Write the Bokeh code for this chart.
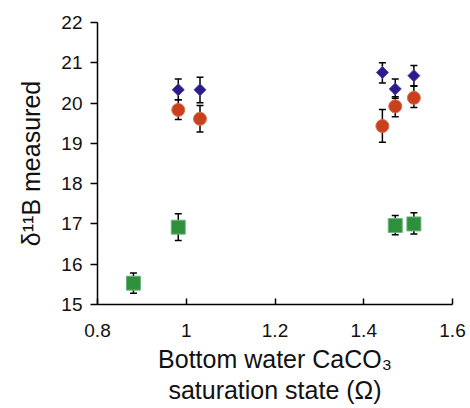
import math
from bokeh.plotting import figure
from bokeh.models import ColumnDataSource, Whisker, TeeHead, FixedTicker
from bokeh.embed import file_html
from bokeh.resources import INLINE

# Data
sq_x = [0.881, 0.982, 1.471, 1.513]
sq_y = [15.53, 16.92, 16.96, 17.00]
sq_lo = [15.28, 16.59, 16.73, 16.75]
sq_hi = [15.78, 17.25, 17.21, 17.28]

ci_x = [0.982, 1.031, 1.442, 1.471, 1.513]
ci_y = [19.83, 19.61, 19.43, 19.92, 20.13]
ci_lo = [19.59, 19.28, 19.03, 19.66, 19.89]
ci_hi = [20.08, 19.94, 19.84, 20.16, 20.42]

di_x = [0.982, 1.031, 1.442, 1.471, 1.513]
di_y = [20.33, 20.33, 20.76, 20.35, 20.68]
di_lo = [20.08, 20.01, 20.50, 20.12, 20.43]
di_hi = [20.60, 20.64, 21.00, 20.60, 20.93]

x_ticks = [0.8, 1.0, 1.2, 1.4, 1.6]
y_ticks = [15, 16, 17, 18, 19, 20, 21, 22]

FONT = "Liberation Sans"

p = figure(width=470, height=408, x_range=(0.8, 1.6), y_range=(15, 22),
           output_backend="svg", toolbar_location=None,
           min_border_left=97, min_border_right=18, min_border_top=22, min_border_bottom=104)
p.outline_line_color = None
p.grid.grid_line_color = None
p.background_fill_color = "white"
p.border_fill_color = "white"

p.xaxis.ticker = FixedTicker(ticks=x_ticks)
p.yaxis.ticker = FixedTicker(ticks=y_ticks)
p.xaxis.major_label_overrides = {0.8: "0.8", 1.0: "1", 1.2: "1.2", 1.4: "1.4", 1.6: "1.6"}
p.yaxis.major_label_overrides = {t: str(t) for t in y_ticks}
for ax in (p.xaxis, p.yaxis):
    ax.axis_line_color = "black"
    ax.axis_line_width = 1.5
    ax.major_tick_line_color = "black"
    ax.major_tick_line_width = 1.5
    ax.minor_tick_line_color = None
    ax.major_label_text_font = FONT
    ax.major_label_text_font_size = "19px"
    ax.major_label_text_color = "#111111"
    ax.axis_label_text_font = FONT
    ax.axis_label_text_font_size = "25px"
    ax.axis_label_text_font_style = "normal"
    ax.axis_label_text_color = "#111111"
p.xaxis.major_tick_in = 6
p.xaxis.major_tick_out = 0
p.xaxis.major_label_standoff = 19
p.yaxis.major_tick_in = 0
p.yaxis.major_tick_out = 7
p.yaxis.major_label_standoff = 8

p.xaxis.axis_label = "Bottom water CaCO\u2083\nsaturation state (\u03a9)"
p.xaxis.axis_label_standoff = 5
p.xaxis.axis_label_text_line_height = 1.12
p.yaxis.axis_label = "\u03b4\u00b9\u00b9B measured"
p.yaxis.axis_label_standoff = 13


def add_err(xs, lo, hi):
    src = ColumnDataSource(dict(x=xs, lo=lo, hi=hi))
    w = Whisker(source=src, base="x", upper="hi", lower="lo", dimension="height",
                line_color="black", line_width=1.5,
                upper_head=TeeHead(size=7, line_color="black", line_width=1.5),
                lower_head=TeeHead(size=7, line_color="black", line_width=1.5))
    p.add_layout(w)


add_err(sq_x, sq_lo, sq_hi)
add_err(ci_x, ci_lo, ci_hi)
add_err(di_x, di_lo, di_hi)

p.scatter(sq_x, sq_y, marker="square", size=14, fill_color="#2e8f3c", line_color="#6fb57a", line_width=1)
p.scatter(ci_x, ci_y, marker="circle", size=13, fill_color="#c8401c", line_color="#d9714f", line_width=1)
p.scatter(di_x, di_y, marker="square", angle=math.pi / 4, size=8.5, fill_color="#2b1c8c", line_color="#4a3ea0", line_width=1)

open("out.html", "w").write(file_html(p, INLINE))
